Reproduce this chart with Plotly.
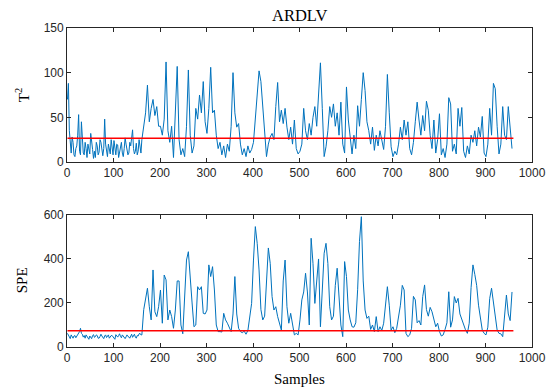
import numpy as np
import plotly.graph_objects as go

# ---- data ----
# samples 1..159 every 2 samples, then 161..957 every 4 samples
t2 = [70, 88, 35, 20, 10, 28, 22, 8, 6, 15,
      18, 30, 53, 12, 8, 45, 20, 10, 8, 22,
      15, 5, 20, 12, 9, 32, 18, 14, 4, 12,
      5, 22, 18, 8, 11, 25, 22, 10, 7, 15,
      48, 20, 12, 6, 20, 14, 9, 25, 16, 8,
      24, 12, 8, 20, 19, 5, 12, 18, 22, 10,
      6, 15, 27, 20, 14, 8, 10, 22, 18, 30,
      36, 15, 9, 12, 21, 8, 12, 25, 17, 10,
      25, 40, 55, 86, 45, 60, 70, 52, 62, 40, 40, 30, 48, 112, 35, 22, 40, 5, 55, 107,
      25, 8, 15, 6, 40, 103, 30, 10, 18, 60, 48, 75, 55, 90, 45, 32, 60, 106, 55, 58,
      30, 15, 22, 8, 18, 5, 20, 12, 40, 100, 55, 39, 43, 20, 8, 15, 6, 18, 10, 14,
      22, 50, 75, 102, 90, 60, 30, 6, 20, 28, 32, 25, 62, 89, 45, 58, 43, 60, 39, 25,
      39, 20, 47, 15, 9,
      12, 20, 60, 35, 25, 43, 30, 50, 62, 40, 73, 111, 60, 6, 17, 35, 62, 50, 65, 40,
      55, 30, 67, 20, 10, 84, 47, 25, 9, 30, 15, 63, 40, 70, 100, 80, 45, 35, 20, 39,
      13, 30, 18, 35, 22, 14, 40, 98, 55, 17, 6, 12, 8, 20, 39, 25, 47, 30, 45, 15,
      8, 22, 45, 67, 47,
      30, 52, 35, 68, 58, 30, 15, 47, 10, 25, 54, 8, 15, 5, 20, 72, 65, 12, 20, 9,
      60, 40, 61, 12, 5, 18, 9, 30, 22, 35, 18, 39, 28, 51, 10, 6, 20, 60, 30, 88,
      82, 40, 9, 20, 62, 30, 25, 62, 35, 15]

spe = [62, 55, 45, 38, 55, 48, 40, 50, 52, 42,
       48, 56, 60, 70, 85, 62, 58, 45, 52, 40,
       55, 48, 42, 35, 50, 45, 38, 52, 56, 44,
       47, 55, 52, 40, 40, 48, 58, 50, 45, 38,
       50, 55, 43, 48, 55, 40, 48, 52, 52, 45,
       40, 35, 56, 50, 45, 52, 60, 48, 42, 55,
       50, 44, 38, 46, 55, 48, 46, 40, 52, 58,
       44, 50, 58, 45, 40, 52, 50, 60, 62, 55,
       55,
       170, 230, 267, 183, 123, 350, 160, 138, 183, 259,
       108, 327, 305, 123, 168, 138, 85, 168, 300, 300,
       100, 60, 250, 395, 433, 300, 200, 92, 100, 274,
       259, 274, 153, 150, 168, 373, 320, 365, 259, 100,
       70, 70, 68, 153, 123, 108, 92, 70, 150, 320,
       150, 85, 70, 65, 72, 58, 75, 150, 198, 395,
       547, 471, 350, 170, 123, 140, 300, 450, 380, 229,
       168, 183, 138, 110, 77, 300, 395, 183, 108, 153,
       100, 55, 62,
       55, 123, 214, 250, 335, 250, 100, 494, 380, 198,
       320, 400, 92, 300, 426, 471, 380, 183, 123, 140,
       280, 358, 200, 100, 47, 388, 320, 168, 123, 92,
       90, 110, 260, 480, 592, 300, 168, 130, 140, 80,
       100, 70, 138, 70, 92, 75, 108, 200, 274, 190,
       77, 92, 65, 85, 140, 190, 280, 259, 62, 47,
       55, 85, 230, 214, 110, 120, 100, 229, 282, 170,
       140, 180, 160, 123, 92, 108, 70, 50, 55, 80,
       110, 251, 90, 123, 229, 200, 221, 150, 125, 95,
       78, 62, 108, 270, 373, 330, 280, 190, 130, 77,
       62, 55, 90, 220, 267, 210, 130, 77, 62, 60,
       47, 150, 236, 150, 120, 250]

T2_LIMIT = 26.5
SPE_LIMIT = 74
LIMIT_SPAN = [1, 960]

x_ticks = [0, 100, 200, 300, 400, 500, 600, 700, 800, 900, 1000]
t2_ticks = [0, 50, 100, 150]
spe_ticks = [0, 200, 400, 600]

samples = np.concatenate([np.arange(1, 161, 2), np.arange(161, 961, 4)])

BLUE = "#0072BD"
RED = "#FF0000"
AX = "#262626"

fig = go.Figure()
fig.add_trace(go.Scatter(x=samples[:len(t2)], y=t2, mode="lines",
                         line=dict(color=BLUE, width=1), xaxis="x", yaxis="y",
                         showlegend=False, hoverinfo="skip"))
fig.add_trace(go.Scatter(x=LIMIT_SPAN, y=[T2_LIMIT, T2_LIMIT], mode="lines",
                         line=dict(color=RED, width=1.5), xaxis="x", yaxis="y",
                         showlegend=False, hoverinfo="skip"))
fig.add_trace(go.Scatter(x=samples[:len(spe)], y=spe, mode="lines",
                         line=dict(color=BLUE, width=1), xaxis="x2", yaxis="y2",
                         showlegend=False, hoverinfo="skip"))
fig.add_trace(go.Scatter(x=LIMIT_SPAN, y=[SPE_LIMIT, SPE_LIMIT], mode="lines",
                         line=dict(color=RED, width=1.5), xaxis="x2", yaxis="y2",
                         showlegend=False, hoverinfo="skip"))

tickfont = dict(family="Liberation Sans, Arial, sans-serif", size=12, color=AX)
common = dict(showline=True, linecolor=AX, linewidth=0.8, mirror="ticks",
              ticks="inside", ticklen=4, tickwidth=0.8, tickcolor=AX,
              showgrid=False, zeroline=False, tickfont=tickfont)

fig.update_layout(
    width=558, height=387,
    margin=dict(l=67, r=23, t=28, b=40),
    paper_bgcolor="white", plot_bgcolor="white",
    xaxis=dict(domain=[0, 1], range=[0, 1000], tickvals=x_ticks, anchor="y", **common),
    yaxis=dict(domain=[0.58, 1], range=[0, 150], tickvals=t2_ticks, anchor="x", **common),
    xaxis2=dict(domain=[0, 1], range=[0, 1000], tickvals=x_ticks, anchor="y2", **common),
    yaxis2=dict(domain=[0, 0.414], range=[0, 600], tickvals=spe_ticks, anchor="x2", **common),
)

serif = dict(family="Liberation Serif, Times New Roman, serif", size=15, color="black")
title_font = dict(family="Liberation Serif, Times New Roman, serif", size=16.5, color="black")
fig.add_annotation(text="ARDLV", x=0.5, y=1.039, xref="paper", yref="paper",
                   showarrow=False, font=title_font, xanchor="center", yanchor="middle")
fig.add_annotation(text="T<sup>2</sup>", x=-0.0962, y=0.79, xref="paper", yref="paper",
                   showarrow=False, font=serif, textangle=-90,
                   xanchor="center", yanchor="middle")
fig.add_annotation(text="SPE", x=-0.0962, y=0.21, xref="paper", yref="paper",
                   showarrow=False, font=serif, textangle=-90,
                   xanchor="center", yanchor="middle")
fig.add_annotation(text="Samples", x=0.5, y=-0.1, xref="paper", yref="paper",
                   showarrow=False, font=serif, xanchor="center", yanchor="middle")

# remove the default page margin so the 558x387 figure fills the window exactly
fig.write_html("out.html", config={"displayModeBar": False},
               post_script="document.body.style.margin='0';")
